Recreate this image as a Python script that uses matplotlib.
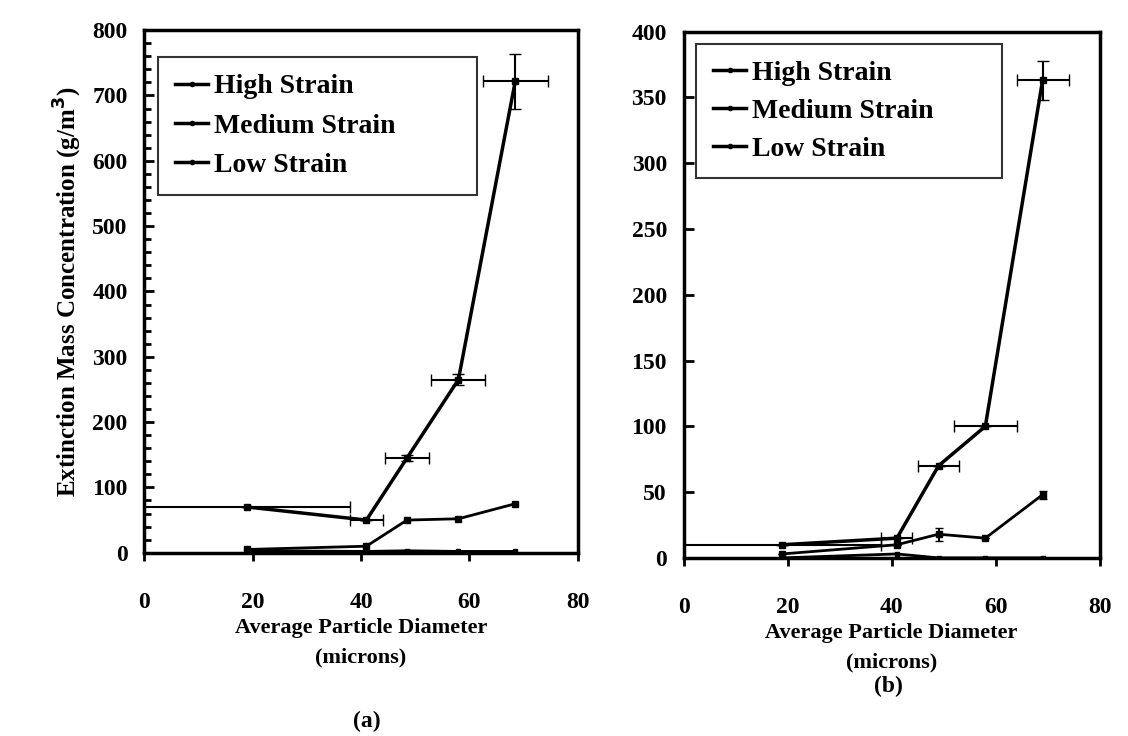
import matplotlib.pyplot as plt
from matplotlib.lines import Line2D

plt.rcParams['font.family'] = ['Liberation Serif', 'DejaVu Serif']
plt.rcParams['font.weight'] = 'bold'

# panel (a)
diam_a = [19, 41, 48.5, 58, 68.5]
high_a = [70, 50, 145, 265, 722]
high_a_xerr = [19, 3, 4, 5, 6]
high_a_yerr = [0, 0, 5, 8, 42]
med_a = [5, 10, 50, 52, 75]
low_a = [3, 2, 3, 2, 2]

# panel (b)
diam_b = [19, 41, 49, 58, 69]
high_b = [10, 15, 70, 100, 363]
high_b_xerr = [19, 3, 4, 6, 5]
high_b_yerr = [0, 0, 0, 0, 15]
med_b = [3, 10, 18, 15, 48]
med_b_yerr = [0, 0, 5, 0, 3]
low_b = [0, 3, 0, 0, 0]

labels = ['High Strain', 'Medium Strain', 'Low Strain']

fig = plt.figure(figsize=(11.28, 7.36), dpi=100)
ax1 = fig.add_axes([0.128, 0.249, 0.384, 0.710])
ax2 = fig.add_axes([0.606, 0.242, 0.369, 0.715])


def draw(ax, x, hi, hxe, hye, med, mye, low, ymax, ystep, yminor, leg_box, leg_sp):
    ax.errorbar(x, hi, xerr=hxe, yerr=hye, color='black', lw=2.5, marker='s',
                ms=5, capsize=4, elinewidth=1.5)
    ax.errorbar(x, med, yerr=mye, color='black', lw=2, marker='s', ms=4,
                capsize=3, elinewidth=1.5)
    ax.plot(x, low, color='black', lw=2, marker='s', ms=3)
    ax.set_xlim(0, 80)
    ax.set_ylim(0, ymax)
    ax.set_xticks([0, 20, 40, 60, 80])
    ax.set_yticks(range(0, ymax + 1, ystep))
    if yminor:
        ax.set_yticks(range(0, ymax + 1, yminor), minor=True)
    ax.tick_params(axis='y', direction='in', length=7, width=2, labelsize=17, pad=12)
    ax.tick_params(axis='y', which='minor', direction='in', length=5, width=2)
    ax.tick_params(axis='x', direction='out', length=6, width=2, labelsize=17, pad=22)
    for s in ax.spines.values():
        s.set_linewidth(2.5)
    for t in ax.get_xticklabels() + ax.get_yticklabels():
        t.set_fontweight('bold')
    ax.set_xlabel('Average Particle Diameter\n(microns)', fontsize=16,
                  fontweight='bold', labelpad=4, linespacing=1.6)
    handles = [Line2D([], [], color='black', lw=2.5, marker='o', ms=3)
               for _ in labels]
    leg = ax.legend(handles, labels, loc='upper left',
                    bbox_to_anchor=leg_box, mode='expand', borderaxespad=0,
                    frameon=True, fancybox=False, edgecolor='black',
                    handlelength=1.2, handletextpad=0.2, labelspacing=leg_sp,
                    borderpad=0.6, prop={'weight': 'bold', 'size': 20})
    leg.get_frame().set_linewidth(1.5)


draw(ax1, diam_a, high_a, high_a_xerr, high_a_yerr, med_a, None, low_a,
     800, 100, 20, (0.032, 0.948, 0.737, 0), 0.5)
draw(ax2, diam_b, high_b, high_b_xerr, high_b_yerr, med_b, med_b_yerr, low_b,
     400, 50, None, (0.031, 0.977, 0.735, 0), 0.45)

ax1.set_ylabel('Extinction Mass Concentration (g/m$^3$)', fontsize=18,
               fontweight='bold', labelpad=6)

fig.text(0.325, 0.012, '(a)', ha='center', fontsize=17, fontweight='bold')
fig.text(0.788, 0.06, '(b)', ha='center', fontsize=17, fontweight='bold')

fig.savefig('out.png', dpi=100)
